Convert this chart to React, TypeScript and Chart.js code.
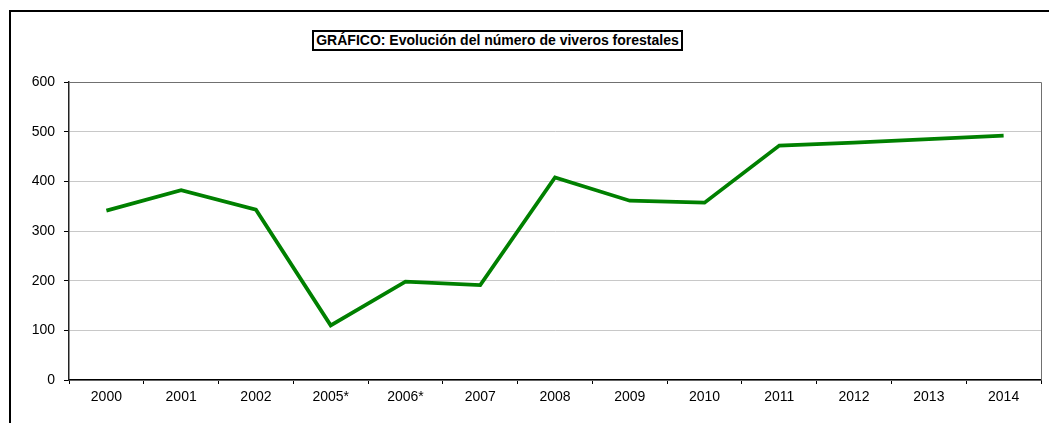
import React, { useEffect, useRef } from "react";
import { Chart, registerables } from "chart.js";

Chart.register(...registerables);

const chartTitle = "GRÁFICO: Evolución del número de viveros forestales";
const categories = ["2000", "2001", "2002", "2005*", "2006*", "2007", "2008", "2009", "2010", "2011", "2012", "2013", "2014"];
const viveros = [341, 382, 343, 110, 198, 191, 408, 361, 357, 472, 478, 485, 492];
const yTicks = [0, 100, 200, 300, 400, 500, 600];

const FONT = "'Liberation Sans', Arial, Helvetica, sans-serif";

const plotBorder = {
  id: "plotBorder",
  beforeDatasetsDraw(chart: any) {
    const { ctx, chartArea } = chart;
    ctx.save();
    ctx.strokeStyle = "#707070";
    ctx.lineWidth = 1;
    ctx.beginPath();
    ctx.moveTo(chartArea.left, Math.round(chartArea.top) + 0.5);
    ctx.lineTo(Math.round(chartArea.right) + 0.5, Math.round(chartArea.top) + 0.5);
    ctx.lineTo(Math.round(chartArea.right) + 0.5, chartArea.bottom);
    ctx.stroke();
    ctx.restore();
  },
};

export default function App() {
  const ref = useRef<HTMLCanvasElement | null>(null);

  useEffect(() => {
    if (!ref.current) return;
    const chart = new Chart(ref.current, {
      type: "line",
      data: {
        labels: categories,
        datasets: [
          {
            data: viveros,
            borderColor: "#008000",
            backgroundColor: "#008000",
            borderWidth: 3.75,
            pointRadius: 0,
            tension: 0,
            fill: false,
            borderJoinStyle: "miter",
          },
        ],
      },
      options: {
        responsive: false,
        animation: false,
        layout: { padding: { left: 0, right: 8, top: 82, bottom: 0 } },
        plugins: {
          legend: { display: false },
          title: { display: false },
          tooltip: { enabled: false },
        },
        scales: {
          x: {
            type: "category",
            offset: true,
            afterFit(scale: any) {
              scale.height = 43;
            },
            grid: {
              offset: true,
              drawOnChartArea: false,
              drawTicks: true,
              tickLength: 4,
              tickColor: "#000",
              tickWidth: 1,
            },
            border: { display: true, color: "#000", width: 1.5 },
            ticks: {
              color: "#000",
              font: { family: FONT, size: 14 },
              padding: 5,
              maxRotation: 0,
              autoSkip: false,
            },
          },
          y: {
            min: 0,
            max: 600,
            afterFit(scale: any) {
              scale.width = 69;
            },
            afterBuildTicks(scale: any) {
              scale.ticks = yTicks.map((v) => ({ value: v }));
            },
            grid: {
              color: (c: any) => (c.tick && c.tick.value === 600 ? "#707070" : "#c8c8c8"),
              lineWidth: 1,
              drawTicks: true,
              tickLength: 5,
              tickColor: "#000",
            },
            border: { display: true, color: "#222", width: 1.5 },
            ticks: {
              color: "#000",
              font: { family: FONT, size: 14 },
              padding: 9,
            },
          },
        },
      },
      plugins: [plotBorder],
    });
    return () => chart.destroy();
  }, []);

  return (
    <div style={{ position: "fixed", left: 0, top: 0, width: 1049, height: 423, overflow: "hidden", background: "#fff" }}>
      <div
        style={{
          position: "absolute",
          left: 9,
          top: 10,
          width: 1200,
          height: 600,
          border: "2px solid #000",
          boxSizing: "border-box",
        }}
      />
      <canvas ref={ref} width={1049} height={423} style={{ position: "absolute", left: 0, top: 0, width: 1049, height: 423 }} />
      <div
        style={{
          position: "absolute",
          left: 312,
          top: 30,
          width: 371,
          height: 21,
          boxSizing: "border-box",
          border: "2px solid #000",
          background: "#fff",
          fontFamily: FONT,
          fontWeight: "bold",
          fontSize: 14,
          lineHeight: "17px",
          textAlign: "center",
          color: "#000",
          whiteSpace: "nowrap",
        }}
      >
        {chartTitle}
      </div>
    </div>
  );
}
